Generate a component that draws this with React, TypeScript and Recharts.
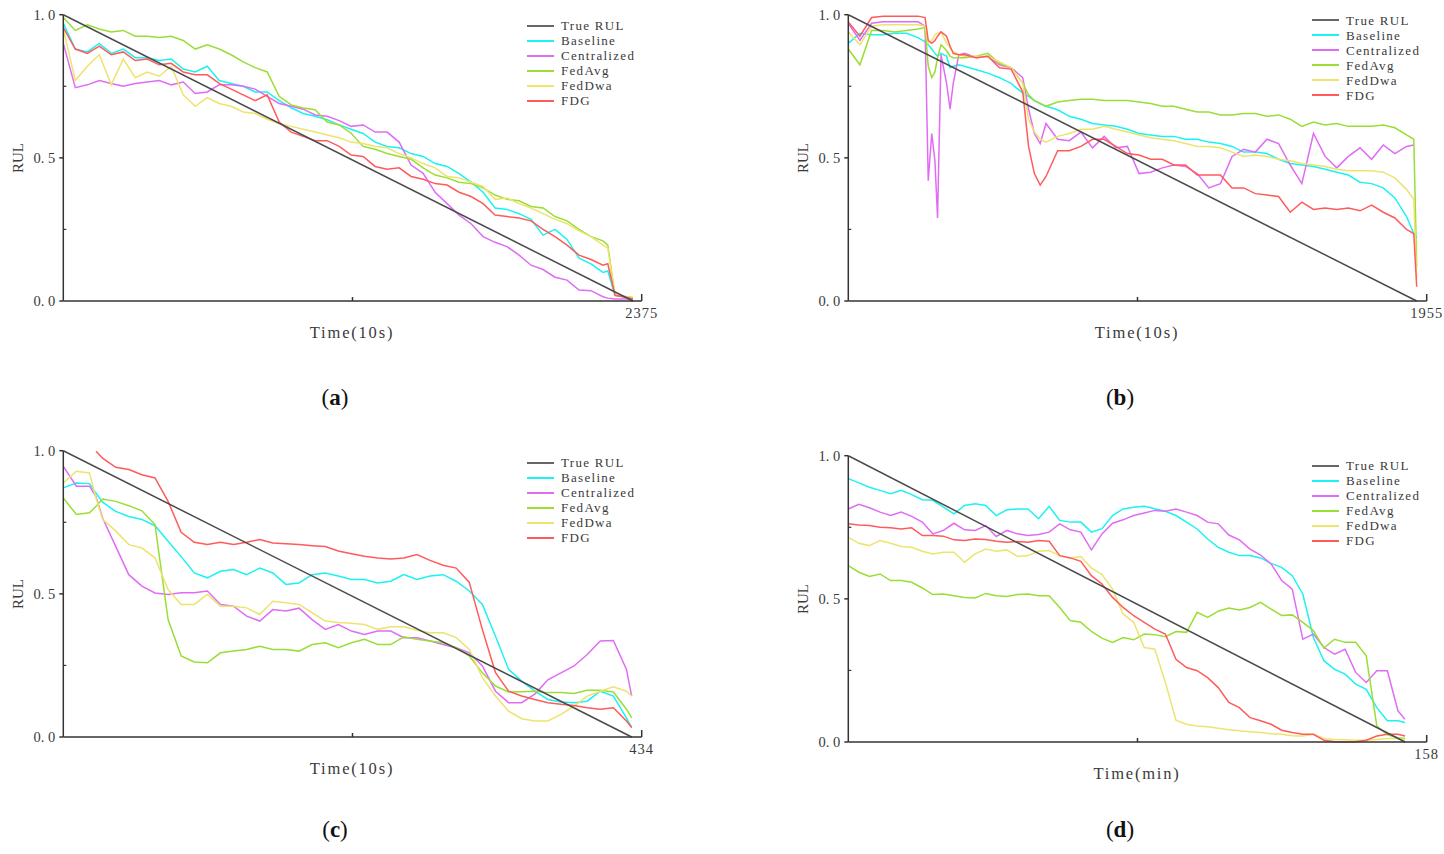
import { LineChart, Line, XAxis, YAxis } from "recharts";

const SERIF = '"Liberation Serif", "DejaVu Serif", serif';
const AXIS = "#333333";
const TEXT = "#3a3a3a";

const seriesNames = ["Baseline", "Centralized", "FedAvg", "FedDwa", "FDG"];
const seriesColors = ["#1cf2f2", "#e06cf5", "#9ade35", "#ede46e", "#ff5b5b"];
const trueRulColor = "#4a4a4a";
const trueRul = [1, 0];

// (a) Time(10s), 2375
const timesA = [0, 50, 100, 150, 200, 250, 300, 350, 400, 450, 500, 550, 600, 650, 700, 750, 800, 850, 900, 950, 1000, 1050, 1100, 1150, 1200, 1250, 1300, 1350, 1400, 1450, 1500, 1550, 1600, 1650, 1700, 1750, 1800, 1850, 1900, 1950, 2000, 2050, 2100, 2150, 2200, 2250, 2270, 2300, 2350, 2375];
const baselineA = [0.97, 0.88, 0.87, 0.9, 0.865, 0.88, 0.85, 0.85, 0.84, 0.845, 0.81, 0.8, 0.82, 0.77, 0.76, 0.75, 0.73, 0.73, 0.7, 0.675, 0.655, 0.645, 0.633, 0.615, 0.6, 0.585, 0.555, 0.54, 0.535, 0.515, 0.505, 0.48, 0.47, 0.445, 0.415, 0.38, 0.325, 0.32, 0.305, 0.285, 0.23, 0.25, 0.215, 0.15, 0.13, 0.1, 0.105, 0.02, 0.012, 0.007];
const centralizedA = [0.9, 0.745, 0.755, 0.77, 0.76, 0.75, 0.76, 0.765, 0.77, 0.755, 0.765, 0.725, 0.73, 0.755, 0.755, 0.75, 0.74, 0.715, 0.69, 0.68, 0.67, 0.65, 0.645, 0.63, 0.61, 0.615, 0.59, 0.59, 0.555, 0.475, 0.446, 0.38, 0.34, 0.3, 0.27, 0.225, 0.205, 0.19, 0.16, 0.125, 0.11, 0.083, 0.073, 0.038, 0.036, 0.015, 0.01, 0.007, 0.007, 0.005];
const fedAvgA = [0.99, 0.945, 0.965, 0.95, 0.94, 0.945, 0.925, 0.925, 0.92, 0.925, 0.91, 0.88, 0.895, 0.88, 0.86, 0.835, 0.815, 0.8, 0.715, 0.685, 0.674, 0.668, 0.625, 0.615, 0.586, 0.54, 0.53, 0.515, 0.505, 0.495, 0.465, 0.44, 0.43, 0.415, 0.41, 0.395, 0.37, 0.355, 0.35, 0.33, 0.325, 0.295, 0.28, 0.25, 0.225, 0.21, 0.195, 0.02, 0.015, 0.012];
const fedDwaA = [0.95, 0.77, 0.82, 0.86, 0.755, 0.845, 0.78, 0.8, 0.785, 0.82, 0.72, 0.68, 0.71, 0.69, 0.68, 0.66, 0.655, 0.635, 0.62, 0.61, 0.6, 0.59, 0.58, 0.57, 0.555, 0.55, 0.54, 0.535, 0.515, 0.5, 0.48, 0.465, 0.435, 0.43, 0.415, 0.4, 0.355, 0.36, 0.34, 0.325, 0.305, 0.285, 0.27, 0.245, 0.225, 0.195, 0.185, 0.02, 0.015, 0.012];
const fdgA = [0.955, 0.88, 0.865, 0.89, 0.86, 0.87, 0.84, 0.845, 0.825, 0.83, 0.8, 0.79, 0.79, 0.76, 0.74, 0.72, 0.7, 0.72, 0.625, 0.59, 0.575, 0.56, 0.56, 0.54, 0.51, 0.505, 0.47, 0.46, 0.465, 0.435, 0.425, 0.41, 0.405, 0.38, 0.365, 0.34, 0.3, 0.295, 0.29, 0.28, 0.25, 0.225, 0.195, 0.16, 0.145, 0.125, 0.13, 0.02, 0.012, 0.007];

// (b) Time(10s), 1955
const timesB = [0, 40, 80, 120, 160, 200, 240, 264, 275, 287, 298, 307, 319, 338, 350, 361, 380, 400, 440, 480, 520, 560, 600, 620, 640, 660, 680, 720, 760, 800, 840, 880, 920, 960, 1000, 1040, 1080, 1120, 1160, 1200, 1240, 1280, 1320, 1360, 1400, 1440, 1480, 1520, 1560, 1600, 1640, 1680, 1720, 1760, 1800, 1840, 1880, 1920, 1945, 1955];
const baselineB = [0.9, 0.935, 0.93, 0.93, 0.935, 0.935, 0.92, 0.905, 0.895, 0.88, 0.865, 0.855, 0.865, 0.855, 0.815, 0.82, 0.825, 0.82, 0.808, 0.796, 0.78, 0.76, 0.726, 0.715, 0.7, 0.69, 0.68, 0.668, 0.645, 0.635, 0.62, 0.615, 0.61, 0.6, 0.585, 0.58, 0.575, 0.575, 0.565, 0.565, 0.555, 0.55, 0.54, 0.52, 0.52, 0.515, 0.495, 0.48, 0.475, 0.47, 0.46, 0.45, 0.44, 0.415, 0.41, 0.395, 0.36, 0.295, 0.235, 0.22];
const centralizedB = [0.97, 0.91, 0.97, 0.975, 0.975, 0.975, 0.975, 0.96, 0.42, 0.585, 0.49, 0.29, 0.86, 0.76, 0.67, 0.76, 0.86, 0.865, 0.85, 0.855, 0.825, 0.815, 0.78, 0.67, 0.585, 0.55, 0.62, 0.565, 0.56, 0.59, 0.535, 0.575, 0.535, 0.54, 0.445, 0.45, 0.465, 0.475, 0.47, 0.445, 0.395, 0.41, 0.505, 0.53, 0.52, 0.565, 0.55, 0.475, 0.41, 0.585, 0.505, 0.465, 0.505, 0.535, 0.495, 0.545, 0.515, 0.54, 0.545, null];
const fedAvgB = [0.88, 0.825, 0.945, 0.945, 0.94, 0.945, 0.95, 0.955, 0.82, 0.78, 0.8, 0.85, 0.895, 0.875, 0.855, 0.85, 0.85, 0.85, 0.855, 0.865, 0.83, 0.815, 0.76, 0.72, 0.7, 0.69, 0.68, 0.695, 0.7, 0.705, 0.705, 0.7, 0.7, 0.7, 0.695, 0.69, 0.68, 0.68, 0.67, 0.66, 0.66, 0.65, 0.65, 0.655, 0.655, 0.645, 0.65, 0.635, 0.61, 0.625, 0.615, 0.62, 0.61, 0.61, 0.61, 0.615, 0.605, 0.58, 0.565, 0.12];
const fedDwaB = [0.94, 0.895, 0.96, 0.965, 0.965, 0.965, 0.965, 0.96, 0.9, 0.91, 0.93, 0.935, 0.94, 0.9, 0.885, 0.87, 0.86, 0.855, 0.855, 0.855, 0.835, 0.815, 0.76, 0.635, 0.59, 0.565, 0.555, 0.575, 0.585, 0.6, 0.6, 0.61, 0.6, 0.59, 0.58, 0.57, 0.565, 0.56, 0.55, 0.54, 0.54, 0.535, 0.52, 0.505, 0.51, 0.505, 0.495, 0.49, 0.48, 0.475, 0.47, 0.46, 0.455, 0.455, 0.455, 0.45, 0.43, 0.39, 0.355, 0.08];
const fdgB = [0.975, 0.925, 0.99, 0.995, 0.995, 0.995, 0.995, 0.99, 0.91, 0.9, 0.91, 0.925, 0.94, 0.925, 0.89, 0.865, 0.86, 0.86, 0.85, 0.855, 0.815, 0.81, 0.73, 0.54, 0.445, 0.405, 0.435, 0.525, 0.525, 0.54, 0.565, 0.565, 0.54, 0.515, 0.51, 0.495, 0.495, 0.475, 0.475, 0.44, 0.44, 0.44, 0.395, 0.395, 0.375, 0.37, 0.365, 0.31, 0.345, 0.32, 0.325, 0.32, 0.325, 0.315, 0.335, 0.31, 0.29, 0.25, 0.235, 0.05];

// (c) Time(10s), 434
const timesC = [0, 10, 20, 25, 30, 40, 50, 60, 70, 80, 90, 100, 110, 120, 130, 140, 150, 160, 170, 180, 190, 200, 210, 220, 230, 240, 250, 260, 270, 280, 290, 300, 310, 320, 330, 340, 350, 360, 370, 380, 390, 400, 410, 420, 430, 434];
const baselineC = [0.87, 0.887, 0.885, 0.852, 0.82, 0.788, 0.77, 0.76, 0.738, 0.684, 0.63, 0.573, 0.556, 0.579, 0.585, 0.567, 0.59, 0.573, 0.533, 0.538, 0.567, 0.573, 0.562, 0.55, 0.55, 0.538, 0.544, 0.567, 0.55, 0.562, 0.567, 0.544, 0.51, 0.463, 0.352, 0.236, 0.195, 0.16, 0.131, 0.122, 0.12, 0.125, 0.16, 0.143, 0.067, 0.033];
const centralizedC = [0.945, 0.876, 0.876, 0.84, 0.765, 0.666, 0.567, 0.527, 0.503, 0.498, 0.504, 0.504, 0.51, 0.463, 0.457, 0.422, 0.405, 0.445, 0.44, 0.45, 0.41, 0.376, 0.393, 0.37, 0.358, 0.37, 0.37, 0.347, 0.347, 0.335, 0.323, 0.312, 0.294, 0.248, 0.16, 0.12, 0.12, 0.15, 0.2, 0.224, 0.248, 0.288, 0.335, 0.337, 0.236, 0.143];
const fedAvgC = [0.835, 0.777, 0.783, 0.806, 0.831, 0.823, 0.808, 0.79, 0.742, 0.41, 0.283, 0.262, 0.259, 0.294, 0.3, 0.306, 0.317, 0.306, 0.306, 0.3, 0.323, 0.329, 0.312, 0.329, 0.341, 0.323, 0.323, 0.35, 0.341, 0.335, 0.329, 0.312, 0.283, 0.224, 0.178, 0.157, 0.158, 0.16, 0.155, 0.155, 0.152, 0.163, 0.163, 0.157, 0.097, 0.067];
const fedDwaC = [0.887, 0.928, 0.922, 0.835, 0.76, 0.72, 0.672, 0.66, 0.626, 0.515, 0.463, 0.463, 0.498, 0.457, 0.457, 0.451, 0.428, 0.474, 0.469, 0.463, 0.434, 0.405, 0.4, 0.397, 0.393, 0.376, 0.385, 0.385, 0.373, 0.364, 0.364, 0.347, 0.306, 0.207, 0.143, 0.09, 0.064, 0.056, 0.056, 0.079, 0.108, 0.143, 0.16, 0.175, 0.16, 0.143];
const fdgC = [null, null, null, 0.998, 0.974, 0.942, 0.934, 0.916, 0.905, 0.823, 0.715, 0.68, 0.672, 0.68, 0.672, 0.68, 0.69, 0.678, 0.675, 0.672, 0.668, 0.665, 0.65, 0.64, 0.631, 0.625, 0.622, 0.625, 0.637, 0.617, 0.6, 0.59, 0.54, 0.375, 0.225, 0.16, 0.143, 0.131, 0.12, 0.114, 0.11, 0.102, 0.097, 0.102, 0.056, 0.033];

// (d) Time(min), 158
const timesD = [0, 3, 6, 9, 12, 15, 18, 21, 24, 27, 30, 33, 36, 39, 42, 45, 48, 51, 54, 57, 60, 63, 66, 69, 72, 75, 78, 81, 84, 87, 90, 93, 96, 99, 102, 105, 108, 111, 114, 117, 120, 123, 126, 129, 132, 135, 138, 141, 144, 147, 150, 153, 156, 158];
const baselineD = [0.92, 0.905, 0.89, 0.879, 0.867, 0.879, 0.864, 0.846, 0.844, 0.82, 0.797, 0.826, 0.832, 0.826, 0.791, 0.811, 0.814, 0.814, 0.78, 0.823, 0.774, 0.768, 0.768, 0.733, 0.745, 0.791, 0.814, 0.82, 0.823, 0.815, 0.806, 0.791, 0.768, 0.744, 0.709, 0.68, 0.663, 0.651, 0.651, 0.643, 0.624, 0.61, 0.581, 0.517, 0.365, 0.284, 0.254, 0.237, 0.202, 0.184, 0.12, 0.074, 0.074, 0.068];
const centralizedD = [0.814, 0.83, 0.818, 0.803, 0.791, 0.803, 0.788, 0.768, 0.727, 0.739, 0.764, 0.741, 0.739, 0.756, 0.718, 0.739, 0.727, 0.721, 0.725, 0.733, 0.762, 0.741, 0.733, 0.671, 0.727, 0.764, 0.776, 0.791, 0.8, 0.809, 0.806, 0.814, 0.803, 0.791, 0.768, 0.762, 0.723, 0.706, 0.674, 0.653, 0.622, 0.564, 0.534, 0.359, 0.377, 0.33, 0.307, 0.324, 0.243, 0.208, 0.249, 0.249, 0.109, 0.079];
const fedAvgD = [0.616, 0.593, 0.578, 0.587, 0.564, 0.564, 0.558, 0.538, 0.515, 0.517, 0.511, 0.505, 0.503, 0.519, 0.511, 0.508, 0.515, 0.517, 0.511, 0.511, 0.47, 0.424, 0.418, 0.386, 0.363, 0.348, 0.365, 0.357, 0.377, 0.375, 0.368, 0.386, 0.383, 0.453, 0.435, 0.457, 0.468, 0.461, 0.47, 0.488, 0.464, 0.442, 0.444, 0.418, 0.389, 0.328, 0.359, 0.348, 0.348, 0.301, 0.056, 0.025, 0.015, 0.012];
const fedDwaD = [0.715, 0.694, 0.686, 0.704, 0.694, 0.683, 0.68, 0.666, 0.657, 0.663, 0.663, 0.628, 0.657, 0.674, 0.666, 0.671, 0.648, 0.651, 0.666, 0.669, 0.651, 0.643, 0.648, 0.608, 0.585, 0.534, 0.447, 0.418, 0.33, 0.324, 0.208, 0.076, 0.062, 0.056, 0.053, 0.048, 0.043, 0.039, 0.036, 0.033, 0.029, 0.027, 0.022, 0.021, 0.027, 0.012, 0.009, 0.008, 0.006, 0.006, 0.009, 0.012, 0.012, 0.008];
const fdgD = [0.762, 0.758, 0.756, 0.75, 0.748, 0.744, 0.748, 0.721, 0.721, 0.719, 0.706, 0.704, 0.709, 0.707, 0.701, 0.698, 0.7, 0.698, 0.704, 0.701, 0.651, 0.643, 0.631, 0.581, 0.552, 0.505, 0.47, 0.441, 0.418, 0.394, 0.377, 0.289, 0.26, 0.249, 0.225, 0.19, 0.138, 0.12, 0.085, 0.074, 0.062, 0.041, 0.033, 0.027, 0.027, 0.006, 0.001, 0, 0.001, 0.006, 0.021, 0.027, 0.027, 0.021];

const panels = [
  { id: "a", left: 0, top: 0, times: timesA, series: [baselineA, centralizedA, fedAvgA, fedDwaA, fdgA], end: 2375, pad: 1.0153, xTitle: "Time(10s)", legendTop: 18.2 },
  { id: "b", left: 785, top: 0, times: timesB, series: [baselineB, centralizedB, fedAvgB, fedDwaB, fdgB], end: 1955, pad: 1.0176, xTitle: "Time(10s)", legendTop: 12.5 },
  { id: "c", left: 0, top: 436.3, times: timesC, series: [baselineC, centralizedC, fedAvgC, fedDwaC, fdgC], end: 434, pad: 1.0176, xTitle: "Time(10s)", legendTop: 18.9 },
  { id: "d", left: 785, top: 440.6, times: timesD, series: [baselineD, centralizedD, fedAvgD, fedDwaD, fdgD], end: 158, pad: 1.039, xTitle: "Time(min)", legendTop: 17.9 },
];

const tags = [
  { id: "a", x: 335, y: 398 },
  { id: "b", x: 1120, y: 398 },
  { id: "c", x: 335, y: 830 },
  { id: "d", x: 1120, y: 830 },
];

function XTick(props: any) {
  const { x, y, payload, dMax, label } = props;
  const isEnd = Math.abs(payload.value - dMax) < 1e-6;
  return (
    <g>
      <line x1={x} y1={y} x2={x} y2={y - (isEnd ? 7 : 4)} stroke={AXIS} strokeWidth={1.5} />
      {isEnd && (
        <text x={x} y={y + 17} textAnchor="middle" fontFamily={SERIF} fontSize={14.5} letterSpacing={1} fill={TEXT}>
          {label}
        </text>
      )}
    </g>
  );
}

function YTick(props: any) {
  const { x, y, payload } = props;
  const v = payload.value;
  const major = v === 0 || v === 0.5 || v === 1;
  if (!major) {
    return <line x1={x} y1={y} x2={x + 3} y2={y} stroke={AXIS} strokeWidth={1.2} />;
  }
  return (
    <g>
      <line x1={x - 4} y1={y} x2={x} y2={y} stroke={AXIS} strokeWidth={1.5} />
      <text x={x - 8} y={y} dy="0.35em" textAnchor="end" fontFamily={SERIF} fontSize={14.5} fill={TEXT}>
        {v.toFixed(1).replace(".", ". ")}
      </text>
    </g>
  );
}

function RulPanel({ cfg }: { cfg: (typeof panels)[number] }) {
  const dMax = cfg.end * cfg.pad;
  const toPoints = (vals: (number | null)[]) =>
    cfg.times.map((t, i) => ({ t, v: vals[i] })).filter((p) => p.v !== null);

  return (
    <div style={{ position: "absolute", left: cfg.left, top: cfg.top, width: 700, height: 360 }}>
      <LineChart width={700} height={345} margin={{ top: 14.7, right: 58.3, bottom: 0, left: 0 }}>
        <XAxis
          dataKey="t"
          type="number"
          domain={[0, dMax]}
          ticks={[dMax / 2, dMax]}
          interval={0}
          allowDataOverflow
          height={44}
          tickSize={0}
          tickMargin={0}
          tickLine={false}
          axisLine={{ stroke: AXIS, strokeWidth: 1.5 }}
          tick={(p: any) => <XTick {...p} dMax={dMax} label={String(cfg.end)} />}
        />
        <YAxis
          type="number"
          domain={[0, 1]}
          ticks={[0, 0.25, 0.5, 0.75, 1]}
          interval={0}
          width={63.3}
          tickSize={0}
          tickMargin={0}
          tickLine={false}
          axisLine={{ stroke: AXIS, strokeWidth: 1.5 }}
          tick={(p: any) => <YTick {...p} />}
        />
        {cfg.series.map((vals, i) => (
          <Line
            key={seriesNames[i]}
            name={seriesNames[i]}
            data={toPoints(vals)}
            dataKey="v"
            type="linear"
            stroke={seriesColors[i]}
            strokeWidth={1.5}
            dot={false}
            activeDot={false}
            isAnimationActive={false}
          />
        ))}
        <Line
          name="True RUL"
          data={[
            { t: 0, v: trueRul[0] },
            { t: cfg.end, v: trueRul[1] },
          ]}
          dataKey="v"
          type="linear"
          stroke={trueRulColor}
          strokeWidth={1.5}
          dot={false}
          activeDot={false}
          isAnimationActive={false}
        />
      </LineChart>

      <div
        style={{
          position: "absolute",
          left: 18,
          top: 158,
          transform: "translate(-50%, -50%) rotate(-90deg)",
          fontFamily: SERIF,
          fontSize: 15,
          color: TEXT,
          whiteSpace: "nowrap",
        }}
      >
        RUL
      </div>
      <div
        style={{
          position: "absolute",
          left: 352,
          top: 323,
          transform: "translateX(-50%)",
          fontFamily: SERIF,
          fontSize: 16.5,
          letterSpacing: 1.8,
          lineHeight: "20px",
          color: TEXT,
          whiteSpace: "nowrap",
        }}
      >
        {cfg.xTitle}
      </div>

      <div style={{ position: "absolute", left: 527, top: cfg.legendTop }}>
        {["True RUL", ...seriesNames].map((name, i) => (
          <div key={name} style={{ display: "flex", alignItems: "center", height: 15 }}>
            <svg width={27} height={4} style={{ display: "block" }}>
              <line x1={0} y1={2} x2={27} y2={2} stroke={i === 0 ? "#666666" : seriesColors[i - 1]} strokeWidth={2} />
            </svg>
            <span
              style={{
                marginLeft: 7,
                fontFamily: SERIF,
                fontSize: 13,
                letterSpacing: 1.3,
                color: TEXT,
                lineHeight: "15px",
                whiteSpace: "nowrap",
              }}
            >
              {name}
            </span>
          </div>
        ))}
      </div>
    </div>
  );
}

export default function App() {
  return (
    <div style={{ position: "absolute", left: 0, top: 0, width: 1444, height: 854, background: "#ffffff", overflow: "hidden" }}>
      {panels.map((cfg) => (
        <RulPanel key={cfg.id} cfg={cfg} />
      ))}
      {tags.map((tag) => (
        <div
          key={tag.id}
          style={{
            position: "absolute",
            left: tag.x,
            top: tag.y,
            transform: "translate(-50%, -50%)",
            fontFamily: SERIF,
            fontSize: 23,
            color: "#111",
            whiteSpace: "nowrap",
          }}
        >
          (<b>{tag.id}</b>)
        </div>
      ))}
    </div>
  );
}
